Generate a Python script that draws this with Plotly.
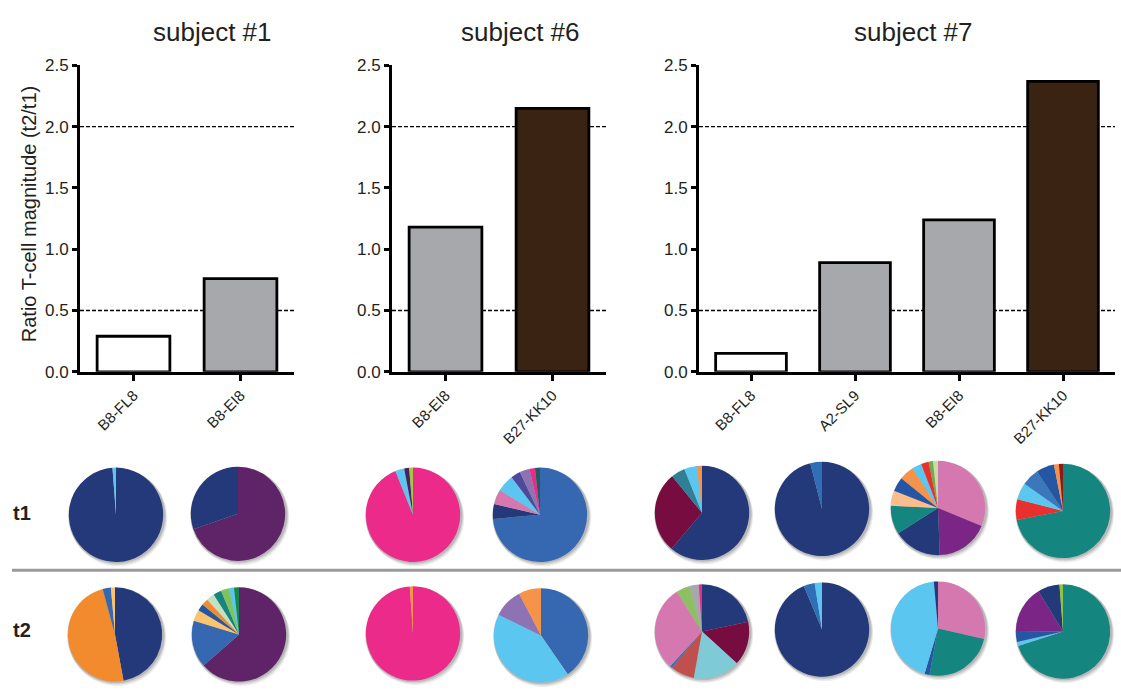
import plotly.graph_objects as go

W, H = 1121, 695
FONT = "Liberation Sans, Arial, sans-serif"
INK = "#231f20"

# ---- T-cell magnitude ratios (t2/t1) per epitope ----
s1_peptides = ["B8-FL8", "B8-EI8"]
s1_ratio = [0.29, 0.76]
s6_peptides = ["B8-EI8", "B27-KK10"]
s6_ratio = [1.18, 2.15]
s7_peptides = ["B8-FL8", "A2-SL9", "B8-EI8", "B27-KK10"]
s7_ratio = [0.15, 0.89, 1.24, 2.37]
ratio_ticks = [0.0, 0.5, 1.0, 1.5, 2.0, 2.5]
threshold_lines = [0.5, 2.0]

peptide_fill = {"B8-FL8": "#ffffff", "A2-SL9": "#a7a8ab",
                "B8-EI8": "#a7a8ab", "B27-KK10": "#3b2314"}

# ---- clonotype palette ----
NAVY = "#24397a"; LBLUE = "#5bc6ef"; PURPLE = "#5f2467"; ORANGE = "#f28a2e"
BLUE = "#3568b0"; YELLOW = "#fdc36c"; DBLUE = "#2556a4"; PALEGREEN = "#c3e0c2"
TEAL = "#158580"; GREEN = "#7dc35e"; DGREEN = "#13894a"; PINK = "#ec2a8a"
DPURPLE = "#4b2162"; LIME = "#a3c940"; MAUVE = "#d678b0"; SLATE = "#4d4a9c"
LAVENDER = "#8d73b3"; DTEAL = "#1e5c5e"; LORANGE = "#f5934a"; MAROON = "#760c40"
STEEL = "#2f8096"; MBLUE = "#2f6fb5"; VIOLET = "#7b2686"; PEACH = "#fbbd8b"
RED = "#e8312f"; OLIVE = "#78a84a"; PALE = "#c8dca8"; BLUE2 = "#3a77bb"
DRED = "#8b1a1a"; AQUA = "#7ecad6"; BRICK = "#c0504d"; SAGE = "#8dc063"
GRAY = "#a7a8ab"; GREEN2 = "#8dc63f"

# ---- clonotype frequencies (%) at t1 ----
s1_fl8_t1 = [98.8, 1.2]
s1_fl8_t1_col = [NAVY, LBLUE]
s1_ei8_t1 = [69.7, 30.3]
s1_ei8_t1_col = [PURPLE, NAVY]
s6_ei8_t1 = [93.9, 3.1, 1.7, 1.3]
s6_ei8_t1_col = [PINK, LBLUE, DPURPLE, LIME]
s6_kk10_t1 = [73.6, 5.1, 5.0, 6.0, 3.3, 3.4, 1.9, 1.7]
s6_kk10_t1_col = [BLUE, NAVY, MAUVE, LBLUE, SLATE, LAVENDER, PINK, DTEAL]
s7_fl8_t1 = [61.2, 27.9, 4.8, 4.4, 1.7]
s7_fl8_t1_col = [NAVY, MAROON, STEEL, LBLUE, LORANGE]
s7_sl9_t1 = [96.0, 4.0]
s7_sl9_t1_col = [NAVY, MBLUE]
s7_ei8_t1 = [31.3, 18.2, 16.6, 9.8, 5.2, 4.9, 5.1, 3.3, 2.6, 1.5, 1.7]
s7_ei8_t1_col = [MAUVE, VIOLET, NAVY, TEAL, PEACH, DBLUE, LORANGE, LBLUE, RED, OLIVE, PALE]
s7_kk10_t1 = [71.8, 7.1, 5.8, 5.9, 6.2, 1.7, 1.4]
s7_kk10_t1_col = [TEAL, RED, LBLUE, BLUE2, DBLUE, LORANGE, DRED]

# ---- clonotype frequencies (%) at t2 ----
s1_fl8_t2 = [47.1, 48.7, 2.8, 1.4]
s1_fl8_t2_col = [NAVY, ORANGE, BLUE, YELLOW]
s1_ei8_t2 = [63.5, 16.2, 3.9, 2.3, 2.3, 2.8, 2.8, 2.8, 1.7, 1.7]
s1_ei8_t2_col = [PURPLE, BLUE, YELLOW, DBLUE, ORANGE, PALEGREEN, TEAL, GREEN, LBLUE, DGREEN]
s6_ei8_t2 = [98.9, 1.1]
s6_ei8_t2_col = [PINK, LORANGE]
s6_kk10_t2 = [40.4, 41.8, 10.1, 7.7]
s6_kk10_t2_col = [BLUE, LBLUE, LAVENDER, LORANGE]
s7_fl8_t2 = [21.7, 15.1, 16.0, 8.2, 0.8, 29.2, 4.7, 3.2, 1.1]
s7_fl8_t2_col = [NAVY, MAROON, AQUA, BRICK, MBLUE, MAUVE, SAGE, GRAY, PINK]
s7_sl9_t2 = [93.7, 3.8, 2.5]
s7_sl9_t2_col = [NAVY, MBLUE, LBLUE]
s7_ei8_t2 = [28.5, 24.4, 1.7, 44.0, 1.4]
s7_ei8_t2_col = [MAUVE, TEAL, DBLUE, LBLUE, NAVY]
s7_kk10_t2 = [70.0, 1.4, 3.8, 16.1, 7.5, 1.2]
s7_kk10_t2_col = [TEAL, LBLUE, DBLUE, VIOLET, NAVY, GREEN2]


def px_x(v):
    return v / W


def px_y(v):
    return 1 - v / H


fig = go.Figure()

# ---- bar panels ----
panels = [
    ("subject #1", s1_peptides, s1_ratio, (80, 294), 212),
    ("subject #6", s6_peptides, s6_ratio, (392, 606), 520),
    ("subject #7", s7_peptides, s7_ratio, (699, 1115), 913),
]
y_dom = [px_y(373), px_y(58)]
shapes = []
annotations = []
for i, (title, peps, ratios, (xa, xb), tx) in enumerate(panels, start=1):
    xname = "x" if i == 1 else f"x{i}"
    yname = "y" if i == 1 else f"y{i}"
    fig.add_trace(go.Bar(
        x=peps, y=ratios, xaxis=xname, yaxis=yname,
        marker=dict(color=[peptide_fill[p] for p in peps],
                    line=dict(color="black", width=2.8)),
        showlegend=False, hovertemplate="%{x}: %{y:.2f}<extra></extra>",
    ))
    xkey = "xaxis" if i == 1 else f"xaxis{i}"
    ykey = "yaxis" if i == 1 else f"yaxis{i}"
    fig.layout[xkey] = dict(
        domain=[px_x(xa), px_x(xb)], anchor=yname, type="category",
        range=[-0.5, len(peps) - 0.5], showline=True, linecolor="black",
        linewidth=3, ticks="outside", ticklen=6, tickwidth=3, tickcolor="black",
        tickangle=-45, showgrid=False, zeroline=False,
        tickfont=dict(family=FONT, size=15, color=INK),
    )
    fig.layout[ykey] = dict(
        domain=y_dom, anchor=xname, range=[0, 2.5], tickvals=ratio_ticks,
        tickformat=".1f", showline=True, linecolor="black", linewidth=3,
        ticks="outside", ticklen=5, tickwidth=3, tickcolor="black",
        showgrid=False, zeroline=False,
        tickfont=dict(family=FONT, size=17, color=INK),
    )
    for lvl in threshold_lines:
        shapes.append(dict(type="line", xref=f"{xname} domain", yref=yname,
                           x0=0, x1=1, y0=lvl, y1=lvl, layer="below",
                           line=dict(color="black", width=1.3, dash="4px,2px")))
    annotations.append(dict(text=title, x=px_x(tx), y=px_y(24), xref="paper",
                            yref="paper", showarrow=False, xanchor="center",
                            yanchor="middle",
                            font=dict(family=FONT, size=26, color=INK)))

annotations.append(dict(text="Ratio T-cell magnitude (t2/t1)", x=px_x(29),
                        y=px_y(211), xref="paper", yref="paper", textangle=-90,
                        showarrow=False, xanchor="center", yanchor="middle",
                        font=dict(family=FONT, size=20, color=INK)))

# ---- clonotype pies ----
R = 48.5
pies = [
    (s1_fl8_t1, s1_fl8_t1_col, 116, 520), (s1_ei8_t1, s1_ei8_t1_col, 238, 519),
    (s6_ei8_t1, s6_ei8_t1_col, 413, 520), (s6_kk10_t1, s6_kk10_t1_col, 540, 520),
    (s7_fl8_t1, s7_fl8_t1_col, 702, 518), (s7_sl9_t1, s7_sl9_t1_col, 822, 514),
    (s7_ei8_t1, s7_ei8_t1_col, 938, 513), (s7_kk10_t1, s7_kk10_t1_col, 1063, 516),
    (s1_fl8_t2, s1_fl8_t2_col, 115, 643), (s1_ei8_t2, s1_ei8_t2_col, 239, 643),
    (s6_ei8_t2, s6_ei8_t2_col, 413, 642), (s6_kk10_t2, s6_kk10_t2_col, 541, 644),
    (s7_fl8_t2, s7_fl8_t2_col, 702, 640), (s7_sl9_t2, s7_sl9_t2_col, 822, 638),
    (s7_ei8_t2, s7_ei8_t2_col, 938, 637), (s7_kk10_t2, s7_kk10_t2_col, 1063, 640),
]
for vals, cols, cx, cy in pies:
    # soft drop shadow below each pie
    for off, alpha in ((4.5, 0.07), (3.0, 0.10), (1.5, 0.13)):
        shapes.append(dict(type="circle", xref="paper", yref="paper",
                           x0=px_x(cx - R + off * 0.4), x1=px_x(cx + R + off * 0.6),
                           y0=px_y(cy + R + off), y1=px_y(cy - R + off * 0.3),
                           fillcolor=f"rgba(0,0,0,{alpha})", line=dict(width=0),
                           layer="below"))
    fig.add_trace(go.Pie(
        values=vals, labels=[f"clonotype {k + 1}" for k in range(len(vals))],
        marker=dict(colors=cols, line=dict(width=0)), sort=False,
        direction="clockwise", rotation=0, textinfo="none", showlegend=False,
        domain=dict(x=[px_x(cx - R), px_x(cx + R)], y=[px_y(cy + R), px_y(cy - R)]),
        hovertemplate="%{label}: %{value}%<extra></extra>",
    ))

# row separator and time-point labels
shapes.append(dict(type="line", xref="paper", yref="paper", x0=px_x(12), x1=1,
                   y0=px_y(577), y1=px_y(577), line=dict(color="#9a9a9a", width=3)))
for lab, yy in (("t1", 518), ("t2", 638)):
    annotations.append(dict(text=f"<b>{lab}</b>", x=px_x(11), y=px_y(yy),
                            xref="paper", yref="paper", showarrow=False,
                            xanchor="left", yanchor="middle",
                            font=dict(family=FONT, size=20, color=INK)))

fig.update_layout(
    width=W, height=H, margin=dict(l=0, r=0, t=0, b=0),
    paper_bgcolor="white", plot_bgcolor="white", bargap=0.32,
    shapes=shapes, annotations=annotations, font=dict(family=FONT, color=INK),
)

fig.write_html("out.html")
